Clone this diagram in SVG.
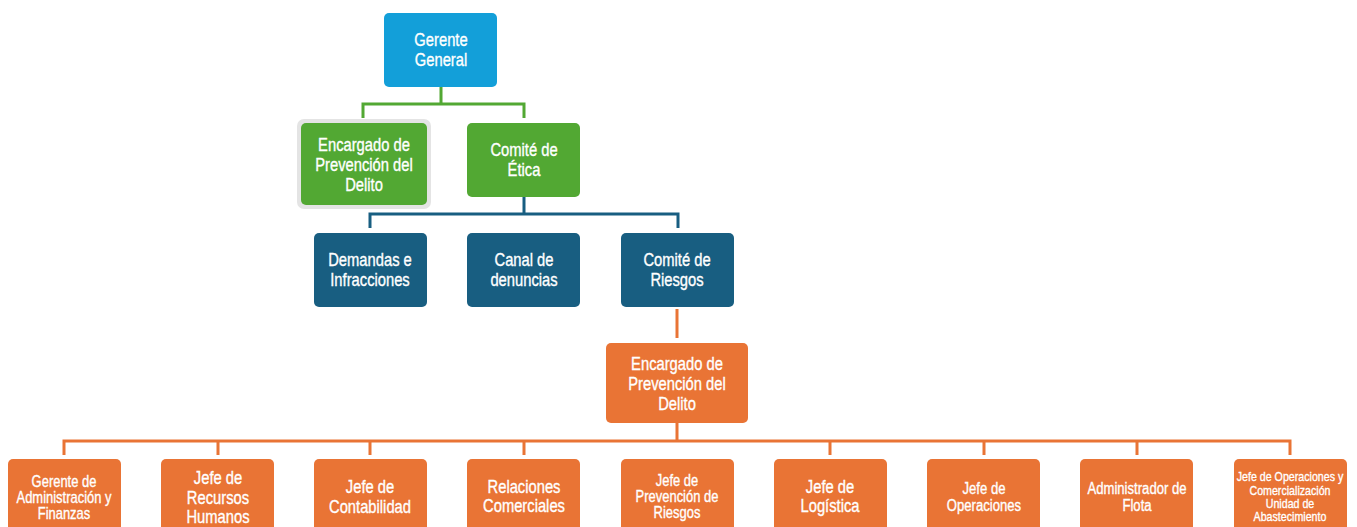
<svg xmlns="http://www.w3.org/2000/svg" width="1357" height="527" viewBox="0 0 1357 527">
<style>
text{font-family:"Liberation Sans",Arial,sans-serif;fill:#fff;stroke:#fff;stroke-width:0.35;text-anchor:middle}
.t18{font-size:18px}
.t16{font-size:16px}
.t15{font-size:15.8px}
.t13{font-size:13px}
.gl{stroke:#52a833;stroke-width:3;fill:none}
.bl{stroke:#185e81;stroke-width:3;fill:none}
.ol{stroke:#e97435;stroke-width:3;fill:none}
.cyan{fill:#139fd9}
.green{fill:#52a833}
.blue{fill:#185e81}
.orange{fill:#e97435}
</style>
<rect width="1357" height="527" fill="#fff"/>
<g id="connectors">
<path class="gl" d="M441 87V104M363 118V104H524V118"/>
<path class="bl" d="M524 197V214M370 228V214H678V228"/>
<path class="ol" d="M677 309V338"/>
<path class="ol" d="M677 423V441M64 455V441H1290V455M218 441V455M370 441V455M524 441V455M830 441V455M984 441V455M1137 441V455"/>
</g>
<g id="gerente-general">
<rect class="cyan" x="384" y="13" width="113" height="74" rx="5"/>
<g transform="translate(441 0) scale(0.82 1)">
<text class="t18" x="0" y="46">Gerente</text>
<text class="t18" x="0" y="66">General</text>
</g>
</g>
<g id="encargado-verde">
<rect x="297" y="119" width="134" height="90" rx="7" fill="#e4e4e4"/>
<rect class="green" x="301" y="123" width="126" height="82" rx="5"/>
<g transform="translate(364 0) scale(0.82 1)">
<text class="t18" x="0" y="151">Encargado de</text>
<text class="t18" x="0" y="171">Prevención del</text>
<text class="t18" x="0" y="191">Delito</text>
</g>
</g>
<g id="comite-etica">
<rect class="green" x="467" y="123" width="113" height="74" rx="5"/>
<g transform="translate(524 0) scale(0.82 1)">
<text class="t18" x="0" y="156">Comité de</text>
<text class="t18" x="0" y="176">Ética</text>
</g>
</g>
<g id="demandas">
<rect class="blue" x="314" y="233" width="113" height="74" rx="5"/>
<g transform="translate(370 0) scale(0.82 1)">
<text class="t18" x="0" y="266">Demandas e</text>
<text class="t18" x="0" y="286">Infracciones</text>
</g>
</g>
<g id="canal">
<rect class="blue" x="467" y="233" width="113" height="74" rx="5"/>
<g transform="translate(524 0) scale(0.82 1)">
<text class="t18" x="0" y="266">Canal de</text>
<text class="t18" x="0" y="286">denuncias</text>
</g>
</g>
<g id="comite-riesgos">
<rect class="blue" x="621" y="233" width="113" height="74" rx="5"/>
<g transform="translate(677 0) scale(0.82 1)">
<text class="t18" x="0" y="266">Comité de</text>
<text class="t18" x="0" y="286">Riesgos</text>
</g>
</g>
<g id="encargado-naranja">
<rect class="orange" x="606" y="343" width="142" height="80" rx="5"/>
<g transform="translate(677 0) scale(0.82 1)">
<text class="t18" x="0" y="370">Encargado de</text>
<text class="t18" x="0" y="390">Prevención del</text>
<text class="t18" x="0" y="410">Delito</text>
</g>
</g>
<g id="gerente-admin">
<rect class="orange" x="8" y="459" width="113" height="80" rx="5"/>
<g transform="translate(64 0) scale(0.82 1)">
<text class="t15" x="0" y="487">Gerente de</text>
<text class="t15" x="0" y="503">Administración y</text>
<text class="t15" x="0" y="519">Finanzas</text>
</g>
</g>
<g id="jefe-rrhh">
<rect class="orange" x="161" y="459" width="113" height="80" rx="5"/>
<g transform="translate(218 0) scale(0.82 1)">
<text class="t18" x="0" y="484">Jefe de</text>
<text class="t18" x="0" y="504">Recursos</text>
<text class="t18" x="0" y="523">Humanos</text>
</g>
</g>
<g id="jefe-contabilidad">
<rect class="orange" x="314" y="459" width="113" height="80" rx="5"/>
<g transform="translate(370 0) scale(0.82 1)">
<text class="t18" x="0" y="493">Jefe de</text>
<text class="t18" x="0" y="513">Contabilidad</text>
</g>
</g>
<g id="relaciones">
<rect class="orange" x="467" y="459" width="113" height="80" rx="5"/>
<g transform="translate(524 0) scale(0.82 1)">
<text class="t18" x="0" y="493">Relaciones</text>
<text class="t18" x="0" y="512">Comerciales</text>
</g>
</g>
<g id="jefe-prevencion">
<rect class="orange" x="621" y="459" width="113" height="80" rx="5"/>
<g transform="translate(677 0) scale(0.82 1)">
<text class="t15" x="0" y="486">Jefe de</text>
<text class="t15" x="0" y="502">Prevención de</text>
<text class="t15" x="0" y="518">Riesgos</text>
</g>
</g>
<g id="jefe-logistica">
<rect class="orange" x="774" y="459" width="113" height="80" rx="5"/>
<g transform="translate(830 0) scale(0.82 1)">
<text class="t18" x="0" y="493">Jefe de</text>
<text class="t18" x="0" y="512">Logística</text>
</g>
</g>
<g id="jefe-operaciones">
<rect class="orange" x="927" y="459" width="113" height="80" rx="5"/>
<g transform="translate(984 0) scale(0.82 1)">
<text class="t16" x="0" y="494">Jefe de</text>
<text class="t16" x="0" y="511">Operaciones</text>
</g>
</g>
<g id="admin-flota">
<rect class="orange" x="1080" y="459" width="113" height="80" rx="5"/>
<g transform="translate(1137 0) scale(0.82 1)">
<text class="t16" x="0" y="494">Administrador de</text>
<text class="t16" x="0" y="511">Flota</text>
</g>
</g>
<g id="jefe-op-comercial">
<rect class="orange" x="1234" y="459" width="113" height="80" rx="5"/>
<g transform="translate(1290 0) scale(0.82 1)">
<text class="t13" x="0" y="481">Jefe de Operaciones y</text>
<text class="t13" x="0" y="495">Comercialización</text>
<text class="t13" x="0" y="508">Unidad de</text>
<text class="t13" x="0" y="521">Abastecimiento</text>
</g>
</g>
</svg>
